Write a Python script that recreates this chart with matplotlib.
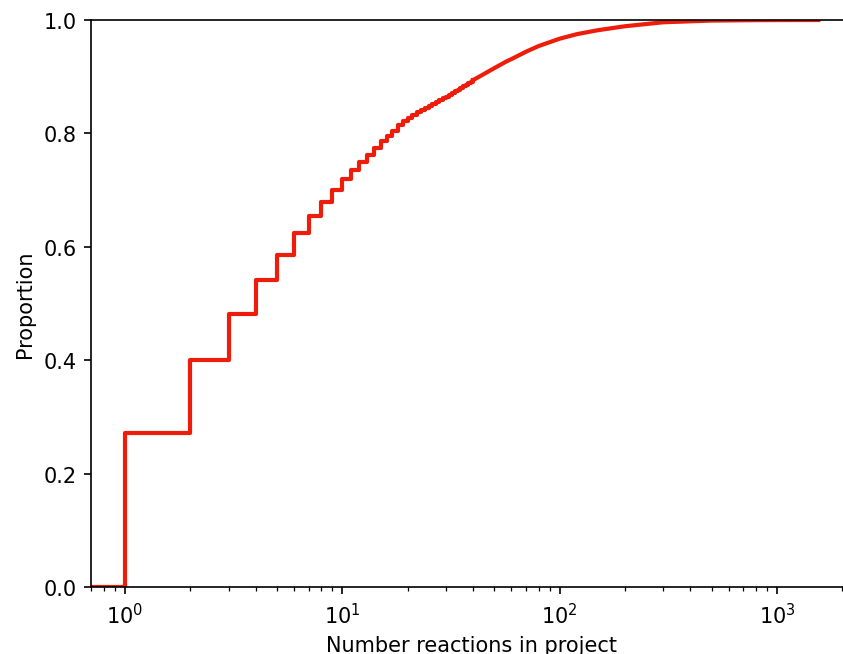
import numpy as np
import matplotlib
matplotlib.use('Agg')
import matplotlib.pyplot as plt

# ECDF of reactions per project: step part (integer counts)
reactions = [1, 2, 3, 4, 5, 6, 7, 8, 9, 10,
             11, 12, 13, 14, 15, 16, 17, 18, 19, 20,
             21, 22, 23, 24, 25, 26, 27, 28, 29, 30,
             31, 32, 33, 34, 35, 36, 37, 38, 39, 40]
proportion = [0.271, 0.400, 0.481, 0.541, 0.586, 0.624, 0.655, 0.679, 0.700, 0.719,
              0.735, 0.750, 0.762, 0.775, 0.786, 0.796, 0.805, 0.814, 0.821, 0.827,
              0.832, 0.837, 0.841, 0.845, 0.849, 0.852, 0.856, 0.859, 0.862, 0.865,
              0.868, 0.871, 0.874, 0.877, 0.880, 0.883, 0.886, 0.889, 0.891, 0.894]

# tail, where steps are too small to see
tail_reactions = [40, 45, 50, 57, 60, 70, 80, 100, 120, 150, 200, 300, 500, 800, 1550]
tail_proportion = [0.894, 0.905, 0.915, 0.927, 0.931, 0.944, 0.954, 0.967, 0.975,
                   0.982, 0.989, 0.996, 0.999, 0.9997, 1.0]

red = '#ee1c0a'

fig = plt.figure(figsize=(843 / 150, 655 / 150), dpi=150)
ax = fig.add_axes([91 / 843, 67 / 655, 762 / 843, 567 / 655])

ax.step(np.r_[0.5, reactions], np.r_[0.0, proportion], where='post', color=red, lw=2)
ax.plot(tail_reactions, tail_proportion, color=red, lw=2)

ax.set_xscale('log')
ax.set_xlim(10 ** -0.156, 10 ** 3.35)
ax.set_ylim(0, 1)
ax.set_xlabel('Number reactions in project')
ax.set_ylabel('Proportion')

fig.savefig('out.png', dpi=150)
